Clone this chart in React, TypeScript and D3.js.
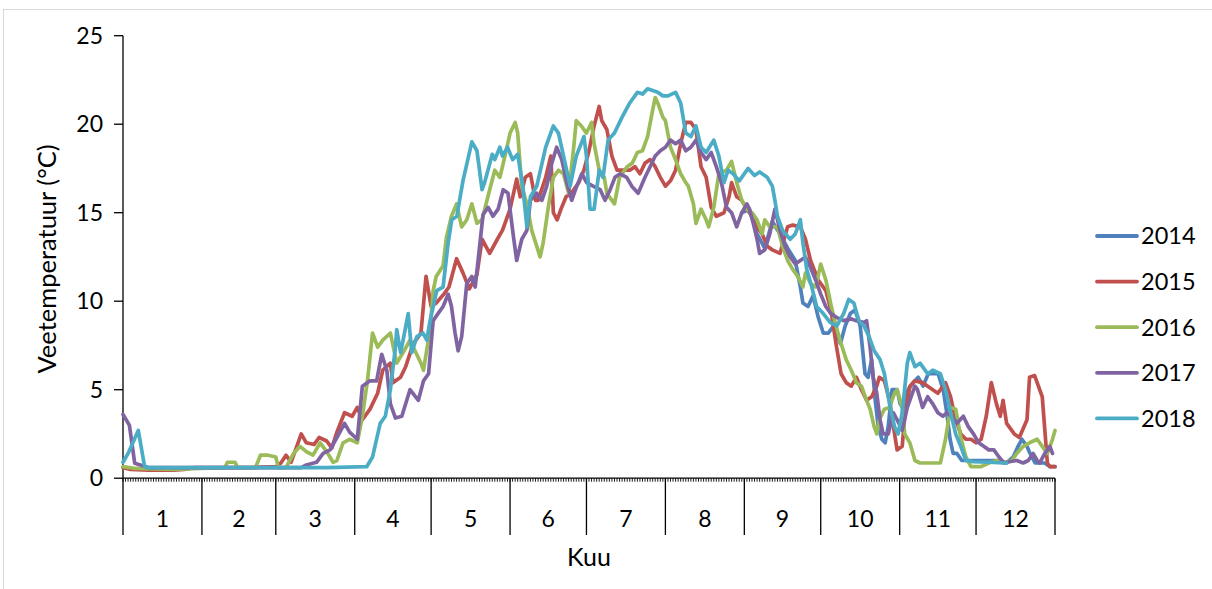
import * as d3 from 'd3';

// day of year (leap-year axis, 0..366) and water temperature in °C
const y2014: [number, number][] = [
  [243, 15.0], [246, 15.2], [249, 13.8], [252, 13.0], [255, 14.5], [258, 13.8], [261, 13.0],
  [264, 12.3], [266, 10.8], [267, 9.9], [269, 9.7], [271, 10.3], [273, 9.1], [275, 8.2],
  [277, 8.2], [279, 8.6], [281.7, 7.6], [283.6, 8.6], [285.6, 9.3], [287.5, 9.5], [289.5, 8.6],
  [291.4, 5.9], [292.6, 5.7], [294, 6.7], [295.4, 4.4], [296.6, 2.9], [298, 2.2], [299.3, 2.0],
  [300.5, 2.9], [302, 5.0], [304, 5.0], [305.2, 4.2], [306.4, 3.9], [308.3, 5.0], [310.3, 5.4],
  [312.3, 5.7], [314.2, 5.2], [316.2, 5.9], [318.2, 5.9], [320.1, 5.9], [322.1, 5.0], [323.5, 3.7],
  [324.8, 2.2], [326, 1.4], [327.5, 1.4], [329.4, 1.0], [335, 1.0], [340, 1.0], [343, 1.0],
  [347, 0.86], [349.6, 1.2], [351.5, 1.8], [353, 2.2], [355, 1.8], [356.2, 1.4], [358.2, 0.86],
  [362, 0.86], [364, 0.65], [366, 0.65],
];

const y2015: [number, number][] = [
  [0, 0.6], [3, 0.5], [10, 0.45], [20, 0.45], [24, 0.5], [28, 0.6], [50, 0.6], [60, 0.65],
  [62, 0.86], [64, 1.3], [66, 0.9], [70, 2.5], [72, 2.0], [75, 1.9], [77, 2.3], [80, 2.1],
  [82, 1.7], [84, 2.6], [87, 3.7], [90, 3.5], [92, 4.0], [94, 3.3], [97, 3.9], [100, 4.8],
  [102, 6.1], [105, 6.5], [106, 5.4], [109, 5.7], [111, 6.3], [114, 7.6], [117, 8.2], [119, 11.4],
  [121, 9.7], [123, 9.9], [126, 10.4], [128, 10.8], [131, 12.4], [133.5, 11.6], [136, 10.7],
  [139, 11.5], [141, 13.5], [144, 12.7], [147, 13.5], [149, 14.0], [150, 14.4], [152, 15.2],
  [154.6, 16.9], [156, 15.9], [158, 17.0], [160, 17.2], [162, 15.7], [163, 15.7], [166, 17.0],
  [168, 18.2], [169, 15.0], [170.5, 14.6], [172, 15.2], [174, 15.9], [176, 16.1], [179, 16.7],
  [181, 17.4], [183, 18.5], [185, 19.9], [187, 21.0], [188, 20.2], [190, 19.7], [192, 18.2],
  [194, 17.4], [196, 17.4], [199, 17.4], [201, 17.6], [203, 17.2], [205, 17.8], [207, 18.0],
  [209, 17.6], [211, 17.0], [213, 16.5], [215, 16.8], [217, 17.4], [219, 18.9], [221, 20.1],
  [223, 20.1], [225, 19.7], [227, 17.6], [229, 17.0], [231, 15.3], [233, 14.8], [236, 15.0],
  [238, 15.9], [239, 16.7], [241, 15.9], [243, 15.7], [245, 15.2], [247, 14.8], [249, 14.2],
  [251, 13.8], [253, 13.1], [255, 12.9], [258, 12.7], [261, 14.2], [263, 14.3], [266, 14.2],
  [268, 13.5], [270, 12.3], [273, 11.2], [276, 10.6], [278, 9.5], [280, 7.6], [282, 5.9],
  [284, 5.4], [286, 5.2], [288, 5.7], [290, 5.0], [292, 4.4], [294, 4.6], [296, 5.2], [297, 5.7],
  [299, 5.5], [301, 4.4], [303, 2.5], [304, 1.6], [306, 1.8], [307, 3.5], [309, 5.2], [311, 5.5],
  [314, 5.4], [316, 5.2], [318, 5.0], [320, 4.8], [323, 5.4], [325, 4.6], [327, 3.3], [329, 2.5],
  [331, 2.2], [333, 2.2], [335, 2.0], [337, 2.2], [339, 3.5], [341, 5.4], [343, 4.2], [344.5, 3.5],
  [345.6, 4.4], [347, 3.1], [350, 2.5], [352, 2.3], [355, 3.3], [356, 5.7], [358, 5.8], [359, 5.4],
  [361, 4.6], [363, 0.86], [364, 0.65], [366, 0.65],
];

const y2016: [number, number][] = [
  [0, 0.65], [5, 0.55], [20, 0.5], [30, 0.55], [40, 0.6], [41, 0.9], [44, 0.9], [45, 0.6],
  [52, 0.6], [54, 1.3], [57, 1.3], [60, 1.2], [61, 0.6], [64, 0.6], [67, 1.4], [69.5, 1.8],
  [72, 1.5], [74.6, 1.3], [77.4, 2.0], [80, 1.5], [82.5, 0.9], [84, 1.0], [86.4, 2.0], [89, 2.2],
  [92, 2.0], [94, 3.5], [96, 5.5], [98, 8.2], [100, 7.4], [102, 7.8], [105, 8.2], [107.5, 6.5],
  [110, 7.1], [112.7, 7.8], [115, 7.1], [117, 6.5], [118, 6.1], [120.6, 8.4], [121.8, 10.6],
  [123, 11.4], [125.7, 12.0], [127, 13.6], [129, 14.8], [131, 15.5], [133, 14.2], [135, 14.6],
  [137, 15.5], [139, 14.4], [141, 14.6], [144, 16.3], [146, 17.4], [148, 17.0], [150, 18.2],
  [152, 19.5], [154, 20.1], [155, 19.5], [156.6, 16.5], [158.6, 15.5], [160.5, 14.0], [162.5, 13.1],
  [163.8, 12.5], [165, 13.3], [167, 15.3], [169, 17.0], [171, 17.4], [173, 17.2], [175, 16.1],
  [177, 18.7], [178, 20.2], [180, 19.9], [182, 19.5], [184, 20.1], [185, 18.9], [187, 17.4],
  [189, 17.0], [190, 16.1], [192, 15.7], [193, 15.5], [195, 17.0], [198, 17.6], [200, 17.8],
  [202, 18.4], [204, 18.5], [206, 19.3], [208, 20.8], [209, 21.5], [210, 21.2], [212, 20.4],
  [213, 20.2], [215, 18.7], [217, 18.0], [219, 17.2], [221, 16.7], [222, 16.5], [224, 15.5],
  [225, 14.4], [227, 15.2], [229, 14.6], [230, 14.2], [232, 15.3], [234, 17.2], [237, 17.4],
  [239, 17.9], [241, 16.7], [243, 15.7], [245, 15.2], [247, 15.0], [249, 14.6], [251, 13.8],
  [252, 14.6], [254, 14.2], [257, 14.2], [259, 13.1], [261, 12.3], [263, 11.8], [265, 11.4],
  [267, 10.8], [268, 11.6], [270, 11.0], [272, 10.8], [274, 12.1], [276, 11.2], [278, 9.8],
  [280, 8.6], [282, 7.6], [284, 6.7], [286, 6.1], [288, 5.4], [290, 5.2], [292, 4.4], [293.4, 3.9],
  [295, 2.9], [296, 2.5], [297, 3.3], [299, 3.9], [301, 4.0], [303, 4.8], [304, 5.0], [306, 4.0],
  [307, 2.5], [309, 2.0], [311, 1.0], [313, 0.86], [317, 0.86], [321, 0.86], [323, 2.2], [325, 4.0],
  [327, 3.9], [329, 2.3], [331, 1.2], [333, 0.65], [337, 0.65], [340, 0.86], [343, 1.0], [347, 0.9],
  [349, 1.0], [351, 1.4], [353.5, 1.8], [356, 2.0], [359, 2.2], [361, 1.8], [363, 1.4], [365, 2.2],
  [366, 2.7],
];

const y2017: [number, number][] = [
  [0, 3.6], [2.5, 3.0], [4.6, 0.85], [10, 0.6], [20, 0.6], [40, 0.6], [60, 0.6], [70, 0.6],
  [72, 0.75], [76, 0.9], [78.6, 1.4], [81.3, 1.6], [84, 2.3], [87, 3.1], [89, 2.6], [92, 2.2],
  [94, 5.2], [97, 5.5], [99.6, 5.5], [101.6, 7.0], [103.6, 6.1], [105, 4.2], [107, 3.4],
  [109.5, 3.5], [112.7, 5.0], [116, 4.4], [118, 5.5], [120, 5.9], [121.8, 8.9], [123.7, 9.3],
  [125.7, 9.7], [127.7, 10.4], [129, 9.7], [130.4, 8.2], [131.6, 7.2], [133, 8.0], [135, 11.0],
  [137, 11.4], [138.3, 10.8], [140.2, 13.3], [141.4, 14.9], [143.4, 15.3], [145.3, 14.8],
  [147.3, 15.2], [149.3, 16.3], [151.2, 16.1], [153.2, 13.8], [154.6, 12.3], [156.6, 13.5],
  [158.6, 14.0], [160, 15.7], [162.5, 16.1], [164.5, 15.7], [166.4, 16.5], [168.4, 17.8],
  [170.3, 18.7], [172.3, 18.0], [174.3, 16.7], [176.2, 15.7], [178.2, 16.5], [180.2, 17.2],
  [182.1, 16.7], [184.6, 16.5], [187.4, 16.3], [189.3, 15.7], [191.3, 16.3], [193.2, 17.0],
  [195.2, 17.2], [197.8, 17.0], [199.8, 16.5], [202.3, 16.1], [205, 17.0], [207, 17.6], [209, 18.2],
  [211, 18.5], [213, 18.7], [215, 19.1], [217, 18.9], [219, 19.1], [221, 18.5], [223, 18.7],
  [225, 19.1], [227, 18.4], [229, 18.0], [231, 18.4], [233, 17.6], [235, 16.7], [237, 15.3],
  [239, 15.0], [241, 14.2], [243, 15.0], [245, 15.5], [246, 15.2], [247.5, 14.4], [249, 13.5],
  [250, 12.7], [252, 12.9], [254, 13.8], [256, 15.2], [258, 14.0], [260, 13.1], [262, 12.5],
  [264, 12.1], [266, 12.3], [268, 12.5], [270, 11.9], [272, 11.2], [274, 10.4], [276, 9.7],
  [278, 9.3], [280, 9.1], [283, 8.9], [286, 9.0], [288, 8.9], [291, 8.8], [292, 8.9], [293.4, 7.4],
  [294.6, 5.7], [296, 4.8], [297.3, 3.3], [298.5, 2.5], [300.5, 2.5], [302.5, 3.7], [304, 3.3],
  [306, 2.7], [308, 4.0], [310, 4.8], [311, 5.2], [312, 5.0], [314, 4.0], [316, 4.6], [318, 4.2],
  [320, 3.7], [322, 3.5], [323.5, 3.7], [325.5, 3.5], [327.5, 3.1], [330, 3.5], [332, 2.9],
  [334, 2.5], [336, 2.0], [338, 1.8], [340, 1.6], [342, 1.6], [344, 1.2], [346, 0.86], [348, 0.93],
  [351, 1.0], [353.5, 0.86], [355.5, 1.0], [357.4, 1.4], [359, 1.0], [360, 0.86], [362, 1.4],
  [364, 1.8], [365, 1.4],
];

const y2018: [number, number][] = [
  [0, 0.9], [2, 1.4], [6, 2.7], [8.5, 0.65], [10, 0.6], [20, 0.6], [40, 0.6], [60, 0.6], [80, 0.6],
  [95.7, 0.65], [98, 1.2], [101, 3.1], [103, 3.5], [105, 5.0], [107, 7.4], [107.5, 8.4], [109, 7.1],
  [110, 7.8], [112, 9.3], [113.4, 7.1], [115.4, 8.0], [117.8, 8.2], [119.3, 7.8], [120.6, 8.9],
  [123.2, 10.6], [125.7, 10.8], [127.7, 13.3], [129.1, 14.6], [131.1, 14.8], [133.5, 16.8],
  [137, 19.0], [139, 18.5], [141, 16.3], [142, 16.7], [145, 18.3], [146, 18.0], [148, 18.7],
  [149, 18.2], [151, 18.7], [153, 18.0], [155, 18.3], [157, 16.5], [158.6, 14.2], [160, 15.9],
  [162.5, 16.5], [166, 18.7], [169, 19.9], [171, 19.5], [173, 18.2], [175.6, 16.5], [178, 18.2],
  [181, 19.3], [182, 18.2], [183.4, 15.2], [185, 15.2], [187, 17.4], [188.5, 17.0], [190.5, 19.1],
  [193, 19.5], [196, 20.4], [199, 21.2], [202, 21.8], [204, 21.7], [206, 22.0], [208, 21.9],
  [210, 21.8], [212, 21.6], [214, 21.6], [217, 21.8], [219, 21.2], [221, 19.5], [223, 19.3],
  [225, 19.9], [227, 18.7], [229, 18.4], [232, 19.1], [234, 18.2], [236, 16.7], [237.6, 17.4],
  [239.6, 17.2], [242, 16.8], [245.5, 17.5], [248, 17.1], [250, 17.3], [253, 17.0], [255, 16.5],
  [256, 15.7], [257, 14.8], [259, 14.0], [262, 13.5], [264, 13.8], [266, 14.6], [267, 13.3],
  [268.5, 11.8], [270.5, 10.8], [272.4, 9.7], [275, 9.3], [277.7, 8.8], [280.3, 8.6], [283, 9.3],
  [285, 10.1], [287, 9.9], [289, 8.9], [291, 8.6], [293, 8.0], [295, 7.2], [297.3, 6.7], [299, 5.9],
  [301, 4.2], [303, 2.9], [304.4, 2.5], [306, 3.7], [308, 6.5], [309, 7.1], [311, 6.3], [313, 6.5],
  [316, 5.9], [318, 6.1], [321, 5.9], [323, 5.0], [325, 3.7], [327, 2.5], [329, 1.8], [331, 1.0],
  [334, 0.93], [340, 0.9], [345.6, 0.86], [347, 0.86],
];

const years = ['2014', '2015', '2016', '2017', '2018'];
const seriesData = [y2014, y2015, y2016, y2017, y2018];
const colors = ['#4F81BD', '#C0504D', '#9BBB59', '#8064A2', '#4BACC6'];

// month boundaries (leap-year day counts)
const monthStarts = [0, 31, 60, 91, 121, 152, 182, 213, 244, 274, 305, 335, 366];
const monthLabels = ['1', '2', '3', '4', '5', '6', '7', '8', '9', '10', '11', '12'];
const yTicks = [0, 5, 10, 15, 20, 25];

const font = 'Lato, "Open Sans", sans-serif';

export default function App() {
  const width = 1212;
  const height = 589;

  const x = d3.scaleLinear().domain([0, 366]).range([123, 1055]);
  const y = d3.scaleLinear().domain([0, 25]).range([478.2, 35.7]);

  const line = d3.line<[number, number]>()
    .x(d => x(d[0]))
    .y(d => y(d[1]));

  const days = d3.range(0, 367);
  const axisY = y(0);

  return (
    <svg
      width={width}
      height={height}
      style={{ position: 'fixed', left: 0, top: 0, background: '#fff' }}
    >
      {/* frame */}
      <rect x={3.5} y={9.5} width={1300} height={700} fill="#fff" stroke="#d9d9d9" />

      {/* y axis */}
      <line x1={x(0)} x2={x(0)} y1={y(25)} y2={axisY} stroke="#000" strokeWidth={1.3} />
      {yTicks.map(t => (
        <g key={t} transform={`translate(0,${y(t)})`}>
          <line x1={114} x2={x(0)} stroke="#000" strokeWidth={1.3} />
          <text
            x={103}
            dy="0.36em"
            textAnchor="end"
            fontFamily={font}
            fontSize={23}
            fill="#000"
          >
            {t}
          </text>
        </g>
      ))}

      {/* x axis */}
      <line x1={x(0)} x2={x(366)} y1={axisY} y2={axisY} stroke="#000" strokeWidth={1.3} />
      {days.map(d => (
        <line key={d} x1={x(d)} x2={x(d)} y1={axisY} y2={axisY + 3.5} stroke="#000" strokeWidth={0.9} />
      ))}
      {monthStarts.map(d => (
        <line key={'m' + d} x1={x(d)} x2={x(d)} y1={axisY} y2={535} stroke="#000" strokeWidth={1.3} />
      ))}
      {monthLabels.map((m, i) => (
        <text
          key={m}
          x={x((monthStarts[i] + monthStarts[i + 1]) / 2)}
          y={519}
          dy="0.36em"
          textAnchor="middle"
          fontFamily={font}
          fontSize={23}
          fill="#000"
        >
          {m}
        </text>
      ))}

      {/* titles */}
      <text x={589} y={557} dy="0.36em" textAnchor="middle" fontFamily={font} fontSize={25} fill="#000">
        Kuu
      </text>
      <text
        transform="translate(47,259) rotate(-90)"
        dy="0.36em"
        textAnchor="middle"
        fontFamily={font}
        fontSize={25.5}
        fill="#000"
      >
        Veetemperatuur (°C)
      </text>

      {/* series */}
      {seriesData.map((s, i) => (
        <path
          key={years[i]}
          d={line(s) || ''}
          fill="none"
          stroke={colors[i]}
          strokeWidth={3.7}
          strokeLinejoin="round"
          strokeLinecap="round"
        />
      ))}

      {/* legend */}
      {years.map((yr, i) => (
        <g key={yr} transform={`translate(0,${236 + i * 45.6})`}>
          <line x1={1097} x2={1137} stroke={colors[i]} strokeWidth={3.8} strokeLinecap="round" />
          <text x={1141} dy="0.36em" fontFamily={font} fontSize={23.5} fill="#000">
            {yr}
          </text>
        </g>
      ))}
    </svg>
  );
}
